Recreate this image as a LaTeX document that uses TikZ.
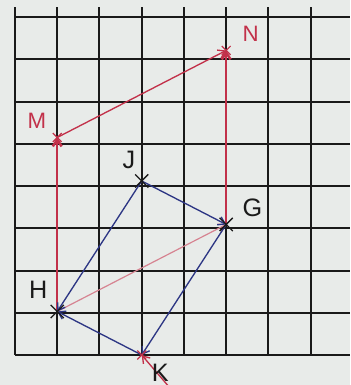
\documentclass[tikz,border=0pt]{standalone}
\usepackage{fontspec}
\setsansfont{Liberation Sans}
\usepackage{tikz}
\usetikzlibrary{arrows.meta,positioning,shapes.misc}
\definecolor{paper}{HTML}{E8EBE9}
\definecolor{ink}{HTML}{1A1A1A}
\definecolor{penred}{HTML}{C2314A}
\definecolor{penpink}{HTML}{D68391}
\definecolor{penblue}{HTML}{2D3684}
\tikzset{
  gridline/.style={draw=ink, line width=1.35pt},
  crossmark/.style={draw=ink, cross out, line width=0.9pt, inner sep=0pt, minimum size=0.28cm},
  redmark/.style={draw=penred, cross out, line width=0.8pt, inner sep=0pt, minimum size=0.18cm},
  ptlabel/.style={font=\sffamily\fontsize{17}{20}\selectfont, text=ink, inner sep=1pt},
  redlabel/.style={font=\sffamily\fontsize{15}{18}\selectfont, text=penred, inner sep=1pt},
  bluevec/.style={draw=penblue, line width=0.9pt, -{Straight Barb[length=4.5pt,width=6pt]}},
  redvec/.style={draw=penred, line width=0.9pt, -{Straight Barb[length=4.5pt,width=6pt]}},
  pinkvec/.style={draw=penpink, line width=0.8pt, -{Straight Barb[length=4.5pt,width=6pt]}}
}
\begin{document}
\begin{tikzpicture}[x=1cm,y=1.03cm]
  \fill[paper] (-0.355,-0.69) rectangle (7.94,8.16);
  \useasboundingbox (-0.355,-0.69) rectangle (7.94,8.16);
  \clip (-0.355,-0.69) rectangle (7.94,8.16);

  % squared paper
  \draw[gridline] (0,0) grid (7.94,8);

  % points
  \coordinate (H) at (1,1);
  \coordinate (K) at (3,0);
  \coordinate (G) at (5,3);
  \coordinate (J) at (3,4);
  \coordinate (M) at (1,5);
  \coordinate (N) at (5,7);
  \coordinate (Kfar) at (3.75,-0.85);

  % red image
  \draw[redvec,line width=1.7pt] (H) -- (M);
  \draw[redvec] (M) -- (N);
  \draw[redvec,line width=1.7pt] (G) -- (N);
  \draw[pinkvec] (H) -- (G);
  \draw[redvec] (Kfar) -- (K);

  % blue shape
  \draw[bluevec] (J) -- (H);
  \draw[bluevec] (K) -- (H);
  \draw[bluevec] (G) -- (K);
  \draw[bluevec] (J) -- (G);

  \node[crossmark] (xH) at (H) {};
  \node[crossmark] (xJ) at (J) {};
  \node[crossmark] (xG) at (G) {};
  \node[redmark] (xK) at (K) {};
  \node[redmark] (xM) at (M) {};
  \node[redmark] (xN) at (N) {};

  \node[ptlabel] (labH) at (0.55,1.5) {H};
  \node[ptlabel] (labJ) at (2.7,4.48) {J};
  \node[ptlabel] (labG) at (5.62,3.38) {G};
  \node[ptlabel] (labK) at (3.44,-0.4) {K};
  \node[redlabel] (labM) at (0.52,5.38) {M};
  \node[redlabel] (labN) at (5.58,7.38) {N};
\end{tikzpicture}
\end{document}
